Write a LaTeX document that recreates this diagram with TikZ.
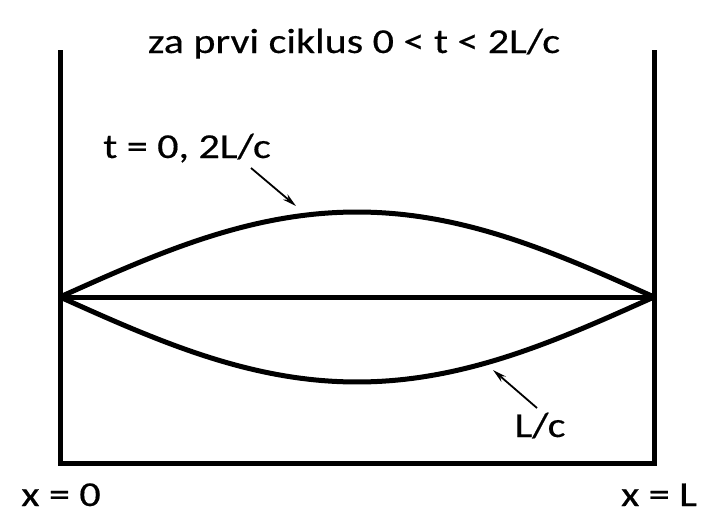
\documentclass[tikz,border=0pt]{standalone}
\usepackage{fontspec}
\setmainfont{Carlito}
\newfontfamily\lblfont{Carlito}[FakeBold=0.4]
\usetikzlibrary{arrows.meta}
\begin{document}
\begin{tikzpicture}[x=1pt,y=-1pt,
  wall/.style={line width=5pt,line cap=rect},
  curve/.style={line width=5pt},
  pointer/.style={line width=1.8pt,-{Stealth[length=14pt,width=7pt]}},
  lbl/.style={font=\lblfont\fontsize{35}{42}\selectfont,inner sep=0pt,anchor=base,xscale=1.2}]
\useasboundingbox (0,0) rectangle (702,514);
\coordinate (tl) at (60,52);
\coordinate (bl) at (60,463);
\coordinate (br) at (654,463);
\coordinate (tr) at (654,52);
\coordinate (ml) at (60,297);
\coordinate (mr) at (654,297);
\draw[wall] (tl) -- (bl) -- (br) -- (tr);
\draw[curve] (ml) -- (mr);
\draw[curve,domain=0:1,samples=80] plot ({60+594*\x},{297-85*sin(180*\x)});
\draw[curve,domain=0:1,samples=80] plot ({60+594*\x},{297+85*sin(180*\x)});
\node[lbl] (title) at (354,53) {za prvi ciklus 0 < t < 2L/c};
\node[lbl] (t0) at (187,158) {t = 0, 2L/c};
\node[lbl] (lc) at (540,437) {L/c};
\node[lbl] (x0) at (61,506) {x = 0};
\node[lbl] (xl) at (659,506) {x = L};
\coordinate (a1s) at (251,168);
\coordinate (a1e) at (296,206);
\coordinate (a2s) at (537,408);
\coordinate (a2e) at (493,370);
\draw[pointer] (a1s) -- (a1e);
\draw[pointer] (a2s) -- (a2e);
\end{tikzpicture}
\end{document}
